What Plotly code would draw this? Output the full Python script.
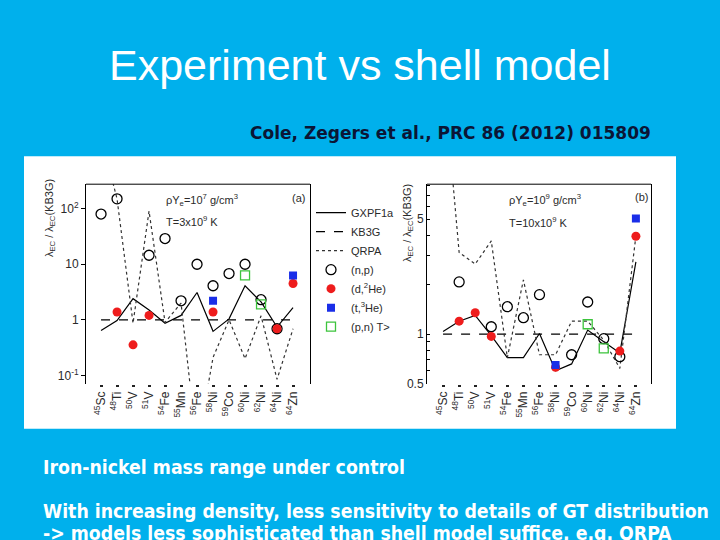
import plotly.graph_objects as go

# ---------------- data ----------------
nuclei = ["<sup>45</sup>Sc", "<sup>48</sup>Ti", "<sup>50</sup>V", "<sup>51</sup>V", "<sup>54</sup>Fe",
          "<sup>55</sup>Mn", "<sup>56</sup>Fe", "<sup>58</sup>Ni", "<sup>59</sup>Co", "<sup>60</sup>Ni",
          "<sup>62</sup>Ni", "<sup>64</sup>Ni", "<sup>64</sup>Zn"]

# panel (a): rho*Ye = 1e7 g/cm3, T = 3e9 K
gxpf1a_a = [0.64, 0.97, 2.4, 1.5, 0.87, 1.2, 3.1, 0.62, 1.04, 4.1, 2.1, 0.74, 1.65]
kb3g_a = [1, 1, 1, 1, 1, 1, 1, 1, 1, 1, 1, 1, 1]
qrpa_a = [2000, 150, 0.87, 90, 0.9, 2.0, 0.005, 0.21, 1.0, 0.2, 1.18, 0.085, 0.69]
np_a = [80, 150, None, 14.5, 29, 2.2, 10, 4.1, 6.8, 10, 2.3, 0.69, None]
d2he_a = [None, 1.38, 0.355, 1.2, None, None, None, 1.38, None, None, None, 0.69, 4.5]
t3he_a = [None, None, None, None, None, None, None, 2.2, None, None, None, None, 6.3]
pn_a = [None, None, None, None, None, None, None, None, None, 6.3, 1.9, None, None]

# panel (b): rho*Ye = 1e9 g/cm3, T = 10e9 K
gxpf1a_b = [1.04, 1.2, 1.3, 0.98, 0.72, 0.72, 1.01, 0.60, 0.66, 1.06, 0.90, 0.77, 2.75]
kb3g_b = [1, 1, 1, 1, 1, 1, 1, 1, 1, 1, 1, 1, 1]
qrpa_b = [40, 3.14, 2.67, 3.69, 0.72, 2.14, 0.75, 0.75, 1.2, 1.2, 0.92, 0.62, 3.95]
np_b = [None, 2.08, None, 1.11, 1.47, 1.26, 1.74, None, 0.75, 1.57, 0.94, 0.73, None]
d2he_b = [None, 1.2, 1.35, 0.97, None, None, None, 0.63, None, None, None, 0.79, 3.94]
t3he_b = [None, None, None, None, None, None, None, 0.65, None, None, None, None, 5.05]
pn_b = [None, None, None, None, None, None, None, None, None, 1.15, 0.82, None, None]

y_ticks_a = [0.1, 1, 10, 100]
y_text_a = ["10<sup>-1</sup>", "1", "10", "10<sup>2</sup>"]
y_ticks_b = [0.5, 0.6, 0.7, 0.8, 0.9, 1, 2, 3, 4, 5, 6, 7, 8]
y_text_b = ["0.5", " ", " ", " ", " ", "1", " ", " ", " ", "5", " ", " ", " "]

# ---------------- figure ----------------
W, H = 720, 540
BG = "#00b0ec"
FONT = "Liberation Sans, Arial, sans-serif"
TXT = "#2a2a2a"

xs = list(range(len(nuclei)))

def px(x):
    return x / W

def py(y):
    # target pixel row -> paper coordinate (with a small vertical calibration
    # for the capture pipeline)
    ys = (y - 3.4) / 0.98
    return 1 - ys / H

fig = go.Figure()

def add_panel(xa, ya, gx, kb, qr, npv, dv, tv, pv, legend):
    fig.add_trace(go.Scatter(x=xs, y=gx, mode="lines", name="GXPF1a",
                             line=dict(color="black", width=1.2),
                             xaxis=xa, yaxis=ya, showlegend=legend, legendrank=1))
    fig.add_trace(go.Scatter(x=xs, y=kb, mode="lines", name="KB3G",
                             line=dict(color="black", width=1.2, dash="dash"),
                             xaxis=xa, yaxis=ya, showlegend=legend, legendrank=2))
    fig.add_trace(go.Scatter(x=xs, y=qr, mode="lines", name="QRPA",
                             line=dict(color="#333333", width=1.2, dash="dot"),
                             xaxis=xa, yaxis=ya, showlegend=legend, legendrank=3))
    fig.add_trace(go.Scatter(x=xs, y=npv, mode="markers", name="(n,p)",
                             marker=dict(symbol="circle-open", size=10, color="black",
                                         line=dict(width=1.3)),
                             xaxis=xa, yaxis=ya, showlegend=legend, legendrank=4))
    fig.add_trace(go.Scatter(x=xs, y=dv, mode="markers", name="(d,<sup>2</sup>He)",
                             marker=dict(symbol="circle", size=9, color="#ee1c1c"),
                             xaxis=xa, yaxis=ya, showlegend=legend, legendrank=5))
    fig.add_trace(go.Scatter(x=xs, y=tv, mode="markers", name="(t,<sup>3</sup>He)",
                             marker=dict(symbol="square", size=8, color="#1a2ee8"),
                             xaxis=xa, yaxis=ya, showlegend=legend, legendrank=6))
    fig.add_trace(go.Scatter(x=xs, y=pv, mode="markers", name="(p,n) T&gt;",
                             marker=dict(symbol="square-open", size=9, color="#3cc43c",
                                         line=dict(width=1.3)),
                             xaxis=xa, yaxis=ya, showlegend=legend, legendrank=7))

add_panel("x", "y", gxpf1a_a, kb3g_a, qrpa_a, np_a, d2he_a, t3he_a, pn_a, True)
add_panel("x2", "y2", gxpf1a_b, kb3g_b, qrpa_b, np_b, d2he_b, t3he_b, pn_b, False)

ydom = [py(383), py(183)]
xcommon = dict(tickmode="array", tickvals=xs, ticktext=nuclei, tickangle=-90,
               ticks="outside", ticklen=2, tickwidth=3, tickcolor="#222",
               showline=False, showgrid=False, zeroline=False,
               tickfont=dict(family=FONT, size=12, color=TXT))
ycommon = dict(type="log", showline=True, mirror=True, linecolor="black", linewidth=1,
               showgrid=False, zeroline=False, tickcolor="black",
               tickfont=dict(family=FONT, size=12, color=TXT))

shapes = [
    dict(type="rect", xref="paper", yref="paper", x0=px(24), x1=px(676), y0=py(428), y1=py(155),
         fillcolor="white", line=dict(width=0), layer="below"),
    dict(type="line", xref="x domain", yref="y domain", x0=0, x1=1, y0=1, y1=1,
         line=dict(color="black", width=1)),
    dict(type="line", xref="x2 domain", yref="y2 domain", x0=0, x1=1, y0=1, y1=1,
         line=dict(color="black", width=1)),
]

ann = []
def text(x, y, s, size, color, xanchor="left", family=FONT, angle=0, yanchor="middle", weight=None):
    f = dict(family=family, size=size, color=color)
    if weight:
        f["weight"] = weight
    ann.append(dict(x=px(x), y=py(y), xref="paper", yref="paper", text=s, showarrow=False,
                    xanchor=xanchor, yanchor=yanchor, textangle=angle, font=f))

text(360, 64, "Experiment vs shell model", 43, "white", xanchor="center")
text(450, 132, "Cole, Zegers et al., PRC 86 (2012) 015809", 17, "#0b1535", xanchor="center",
     family="DejaVu Sans, sans-serif", weight="bold")
cond = "DejaVu Sans Condensed, Liberation Sans Narrow, DejaVu Sans, sans-serif"
for yy, s in [(467, "Iron-nickel mass range under control"),
              (511, "With increasing density, less sensitivity to details of GT distribution"),
              (533, "-&gt; models less sophisticated than shell model suffice, e.g. QRPA")]:
    text(41, yy, s, 19.3, "white", family=cond, weight="bold")

# panel labels
text(164, 199, "ρY<sub>e</sub>=10<sup>7</sup> g/cm<sup>3</sup>", 11, TXT)
text(164, 220, "T=3x10<sup>9</sup> K", 11, TXT)
text(307, 197, "(a)", 11, TXT, xanchor="right")
text(507, 199, "ρY<sub>e</sub>=10<sup>9</sup> g/cm<sup>3</sup>", 11, TXT)
text(507, 221, "T=10x10<sup>9</sup> K", 11, TXT)
text(650, 196, "(b)", 11, TXT, xanchor="right")
text(50, 217, "λ<sub>EC</sub> / λ<sub>EC</sub>(KB3G)", 11, TXT, xanchor="center", angle=-90)
text(408, 222, "λ<sub>EC</sub> / λ<sub>EC</sub>(KB3G)", 11, TXT, xanchor="center", angle=-90)

fig.update_layout(
    width=W, height=H, margin=dict(l=0, r=0, t=0, b=0),
    paper_bgcolor=BG, plot_bgcolor="rgba(0,0,0,0)",
    font=dict(family=FONT, color=TXT),
    showlegend=True,
    legend=dict(x=px(311), y=py(197), xanchor="left", yanchor="top",
                bgcolor="rgba(0,0,0,0)", font=dict(family=FONT, size=11, color=TXT),
                itemwidth=30, tracegroupgap=0),
    xaxis=dict(domain=[px(86), px(310)], range=[-0.94, 13.06], anchor="y", **xcommon),
    yaxis=dict(domain=ydom, range=[-1.15, 2.44], anchor="x", tickvals=y_ticks_a,
               ticktext=y_text_a, ticks="outside", ticklen=4, **ycommon),
    xaxis2=dict(domain=[px(427), px(651)], range=[-1.0, 12.94], anchor="y2", **xcommon),
    yaxis2=dict(domain=ydom, range=[-0.301, 0.912], anchor="x2", tickvals=y_ticks_b,
                ticktext=y_text_b, ticks="inside", ticklen=3, **ycommon),
    shapes=shapes, annotations=ann,
)

css = ("var s=document.createElement('style');"
       "s.textContent='html,body{margin:0;padding:0;overflow:hidden;width:720px;height:540px;}';"
       "document.head.appendChild(s);")
fig.write_html("out.html", config={"displayModeBar": False}, post_script=css)
